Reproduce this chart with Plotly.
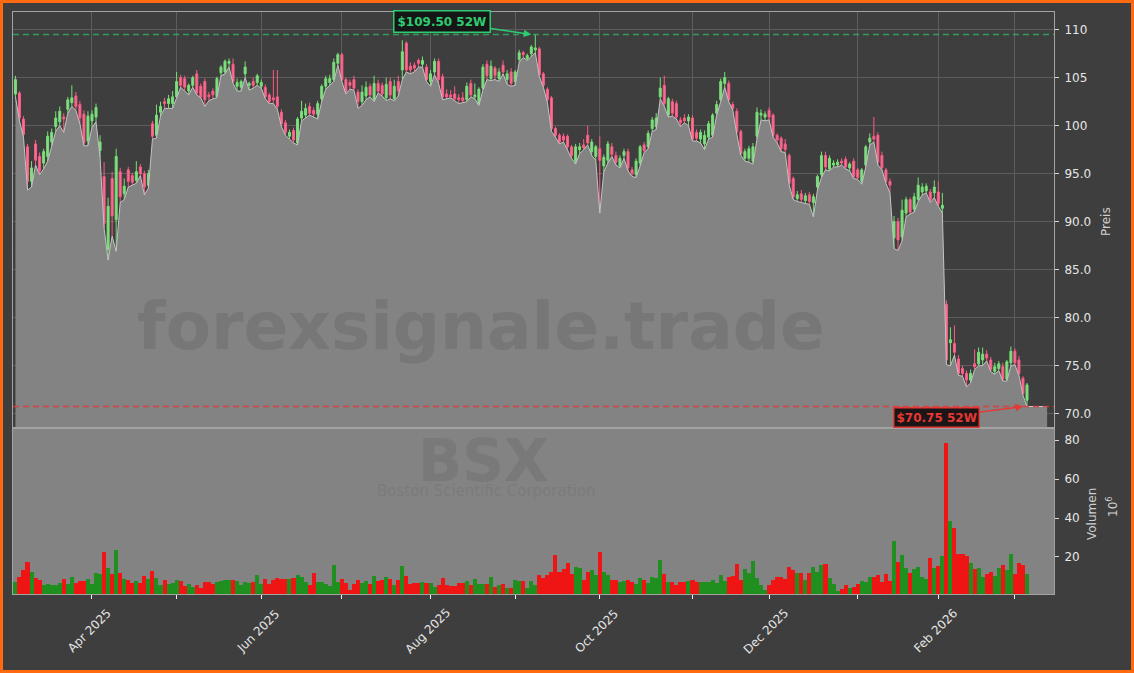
import numpy as np
import pandas as pd
import plotly.graph_objects as go

# ---------------- data ----------------
HOLIDAYS = ["2025-04-18", "2025-05-26", "2025-06-19", "2025-07-04", "2025-09-01",
            "2025-11-27", "2025-12-25", "2026-01-01", "2026-01-19", "2026-02-16"]
DATES = pd.bdate_range("2025-03-05", "2026-03-05", freq="C", holidays=HOLIDAYS)

OPEN = [
    103.3, 103.4, 100.7, 97.8, 94.2, 98.1, 96.8, 96.1, 96.8, 98.3,
    99.9, 100.4, 100.9, 101.7, 102.4, 103.1, 102.2, 101.2, 98.4, 100.5,
    100.9, 97.4, 94.7, 87.1, 94.5, 90.2, 95.2, 92.9, 95.4, 94.8,
    94.3, 95.7, 95.0, 93.8, 100.2, 99.0, 101.4, 102.5, 102.3, 102.3,
    103.0, 105.0, 104.9, 103.6, 104.2, 105.4, 104.1, 104.6, 103.2, 103.6,
    103.0, 105.5, 105.6, 106.5, 106.4, 104.1, 104.0, 105.4, 104.2, 104.6,
    104.5, 104.1, 104.0, 103.2, 102.9, 103.0, 101.4, 100.3, 98.9, 99.5,
    98.2, 100.8, 101.1, 102.0, 101.6, 101.2, 102.8, 104.1, 104.5, 104.8,
    106.5, 107.4, 104.8, 104.5, 104.8, 103.5, 102.5, 103.1, 104.1, 102.7,
    104.4, 104.2, 102.9, 104.6, 102.8, 104.6, 105.8, 108.6, 106.2, 106.3,
    106.8, 106.4, 106.1, 104.6, 105.6, 106.7, 105.1, 103.3, 103.2, 103.3,
    102.9, 102.9, 102.7, 104.4, 103.0, 102.3, 103.9, 106.4, 104.9, 106.0,
    104.9, 106.3, 104.8, 105.6, 104.6, 106.9, 107.6, 107.0, 107.5, 107.9,
    108.0, 105.4, 103.8, 102.9, 99.7, 99.0, 98.9, 98.9, 97.8, 96.3,
    97.5, 98.0, 99.0, 97.3, 96.8, 97.6, 95.8, 96.4, 97.8, 96.9,
    95.8, 96.9, 97.3, 95.4, 94.9, 96.1, 98.0, 97.8, 99.7, 99.9,
    103.0, 104.2, 101.1, 102.5, 102.3, 100.6, 100.8, 100.5, 100.8, 99.3,
    98.6, 98.1, 98.8, 99.0, 101.3, 102.7, 104.4, 104.4, 102.2, 101.5,
    99.4, 96.6, 96.6, 96.3, 98.9, 101.1, 100.9, 101.6, 101.1, 99.0,
    98.7, 98.1, 96.9, 94.5, 92.4, 92.9, 92.2, 92.8, 92.0, 93.6,
    94.9, 96.9, 95.5, 95.9, 95.9, 96.3, 96.5, 95.6, 96.3, 95.4,
    94.2, 95.9, 98.3, 98.9, 99.0, 96.9, 95.4, 94.2, 88.3, 90.0,
    88.4, 90.9, 92.3, 91.3, 92.3, 93.1, 93.2, 93.1, 93.0, 93.1,
    91.4, 81.4, 77.4, 77.3, 75.7, 74.7, 74.2, 73.5, 75.2, 75.2,
    75.6, 76.2, 75.6, 74.4, 74.7, 74.9, 73.6, 75.3, 76.5, 75.6,
    73.7, 71.4,
]
HIGH = [
    105.2, 103.6, 101.0, 98.1, 96.3, 98.5, 97.2, 97.6, 99.4, 99.7,
    101.5, 102.0, 101.3, 103.0, 104.2, 103.5, 102.6, 101.6, 101.5, 101.6,
    102.3, 99.0, 96.2, 92.5, 95.2, 97.6, 95.6, 94.5, 95.7, 95.1,
    96.3, 96.0, 95.3, 95.4, 100.5, 102.2, 102.5, 102.9, 103.2, 103.6,
    105.6, 105.3, 105.2, 104.4, 105.2, 105.8, 104.4, 104.9, 103.5, 103.9,
    105.1, 106.3, 106.9, 107.0, 107.0, 104.9, 104.8, 106.7, 104.6, 105.0,
    105.4, 104.8, 104.3, 103.4, 105.8, 105.8, 101.7, 100.6, 99.6, 99.8,
    100.9, 102.6, 102.3, 102.4, 101.9, 102.6, 104.3, 105.2, 105.3, 107.0,
    107.6, 107.6, 105.0, 104.8, 105.2, 103.8, 104.2, 104.6, 104.4, 105.2,
    104.8, 104.5, 105.0, 105.0, 104.8, 105.2, 108.9, 108.8, 106.6, 106.6,
    107.0, 107.2, 106.4, 105.8, 107.0, 107.0, 105.4, 103.8, 103.7, 104.1,
    103.3, 103.5, 104.5, 104.8, 104.4, 104.0, 106.4, 106.8, 106.8, 106.2,
    106.0, 106.8, 105.8, 106.0, 105.8, 107.9, 107.8, 107.5, 108.4, 109.5,
    108.2, 105.6, 104.0, 103.1, 99.9, 99.2, 99.2, 99.1, 98.0, 98.1,
    98.2, 98.6, 100.0, 98.6, 98.0, 98.9, 97.0, 98.4, 98.2, 97.3,
    96.9, 97.6, 97.6, 95.7, 96.6, 98.0, 98.3, 99.5, 100.9, 101.3,
    105.0, 105.2, 103.0, 102.8, 102.6, 100.9, 101.2, 101.2, 101.1, 99.6,
    99.6, 99.5, 100.5, 101.3, 102.6, 104.9, 105.6, 104.7, 102.5, 101.8,
    99.6, 97.6, 97.9, 98.2, 101.9, 101.7, 101.5, 101.9, 101.3, 99.2,
    98.9, 98.6, 97.1, 94.7, 93.2, 93.3, 93.0, 93.1, 92.9, 94.9,
    97.3, 97.3, 96.9, 96.4, 96.5, 96.6, 96.8, 96.2, 96.6, 95.6,
    95.6, 98.0, 99.2, 100.9, 99.3, 97.3, 95.6, 94.5, 90.6, 90.4,
    92.3, 92.6, 92.5, 93.0, 94.6, 94.0, 94.0, 93.4, 94.3, 94.2,
    93.0, 81.8, 79.0, 79.2, 76.1, 75.0, 74.5, 74.6, 76.7, 76.9,
    76.9, 76.6, 75.9, 75.3, 75.5, 75.3, 75.6, 77.0, 76.8, 76.0,
    73.9, 73.2,
]
LOW = [
    103.0, 100.5, 98.8, 93.3, 93.6, 95.9, 94.9, 95.5, 96.3, 97.9,
    99.4, 100.0, 99.3, 101.3, 102.0, 101.6, 100.2, 97.9, 97.9, 99.8,
    100.4, 96.7, 89.3, 86.0, 88.5, 86.9, 92.0, 92.3, 93.6, 93.8,
    94.0, 94.8, 92.8, 93.5, 98.6, 98.7, 101.0, 101.8, 101.8, 101.8,
    102.9, 104.0, 103.6, 103.2, 104.0, 103.2, 102.9, 102.0, 102.6, 102.8,
    102.9, 105.2, 105.4, 106.1, 104.4, 103.6, 103.6, 105.0, 103.7, 103.9,
    104.2, 103.9, 102.8, 102.3, 102.3, 101.7, 99.9, 99.0, 98.6, 98.2,
    98.0, 100.5, 100.8, 101.1, 100.9, 100.7, 102.5, 103.8, 104.2, 104.6,
    106.3, 104.6, 103.3, 103.8, 103.7, 101.8, 102.1, 102.7, 103.0, 102.5,
    103.4, 103.1, 102.6, 102.8, 102.6, 103.1, 104.8, 105.6, 105.4, 105.6,
    106.1, 106.1, 104.6, 104.1, 105.3, 104.4, 102.7, 102.8, 102.9, 102.6,
    102.3, 102.4, 102.5, 103.0, 102.8, 102.1, 103.7, 104.8, 104.7, 104.8,
    104.6, 105.4, 104.3, 104.1, 104.2, 106.6, 107.1, 106.8, 107.2, 107.6,
    105.1, 104.0, 102.4, 99.4, 98.8, 98.1, 98.3, 97.5, 96.6, 96.0,
    97.1, 97.5, 98.0, 96.9, 96.4, 90.9, 95.2, 96.1, 96.8, 95.9,
    95.6, 96.6, 95.3, 94.7, 94.6, 95.8, 97.2, 97.6, 99.4, 99.6,
    102.8, 102.0, 100.9, 101.0, 100.7, 99.9, 100.3, 100.0, 98.4, 98.4,
    98.2, 97.5, 98.6, 98.8, 101.1, 102.5, 104.0, 102.5, 101.6, 99.1,
    96.9, 96.3, 96.2, 96.0, 98.6, 100.6, 100.5, 100.6, 98.8, 98.2,
    97.3, 97.2, 93.8, 92.3, 92.1, 92.0, 91.9, 91.8, 90.5, 93.3,
    94.6, 95.4, 95.3, 95.7, 95.7, 95.9, 95.5, 95.3, 94.5, 94.4,
    93.9, 95.7, 98.0, 98.3, 95.9, 95.4, 94.0, 93.0, 87.2, 87.0,
    88.0, 90.5, 90.8, 91.0, 92.1, 92.8, 93.0, 92.0, 92.5, 91.6,
    90.9, 75.1, 75.0, 76.1, 74.0, 73.9, 72.8, 73.2, 74.6, 75.0,
    75.0, 75.5, 74.4, 74.1, 74.5, 73.4, 73.4, 75.0, 75.1, 74.0,
    71.9, 70.75,
]
CLOSE = [
    104.8, 100.8, 99.1, 94.2, 95.6, 96.4, 95.3, 97.3, 98.9, 99.3,
    100.8, 101.5, 100.7, 102.7, 102.9, 102.0, 100.8, 98.2, 101.0, 101.2,
    101.9, 98.3, 89.8, 91.6, 90.6, 96.8, 92.6, 93.7, 94.2, 94.1,
    95.2, 95.0, 93.6, 95.0, 98.9, 101.1, 102.0, 102.3, 102.8, 103.0,
    104.6, 104.2, 104.0, 104.2, 105.0, 103.4, 103.0, 102.7, 103.0, 103.2,
    104.9, 106.1, 106.7, 106.7, 104.6, 104.5, 104.6, 106.1, 104.4, 104.2,
    105.2, 104.5, 103.0, 102.5, 102.7, 102.0, 100.2, 99.3, 99.3, 98.5,
    100.7, 101.5, 101.8, 101.3, 101.2, 102.3, 104.1, 104.9, 104.9, 106.6,
    107.4, 104.8, 103.5, 104.2, 103.9, 102.5, 103.5, 104.0, 103.2, 104.4,
    103.6, 103.3, 104.3, 103.2, 104.1, 103.6, 107.7, 105.8, 105.8, 106.0,
    106.5, 106.8, 104.8, 105.4, 106.7, 104.8, 103.0, 103.0, 103.0, 102.8,
    102.7, 102.6, 104.1, 103.2, 103.2, 103.8, 106.1, 105.2, 106.2, 105.2,
    105.6, 105.6, 105.4, 104.4, 105.6, 107.6, 107.4, 107.3, 108.2, 108.1,
    105.3, 104.2, 102.7, 99.7, 99.0, 98.3, 98.5, 97.8, 96.9, 97.8,
    97.8, 97.7, 98.2, 98.3, 97.8, 96.4, 96.7, 98.1, 97.0, 96.2,
    96.6, 97.3, 95.6, 95.0, 96.3, 97.8, 97.4, 99.2, 100.6, 100.8,
    103.9, 102.3, 102.8, 101.3, 100.9, 100.3, 100.5, 100.9, 98.6, 98.7,
    99.3, 99.0, 100.2, 101.1, 102.2, 104.6, 105.0, 102.7, 101.8, 99.4,
    97.1, 97.3, 97.6, 97.8, 101.4, 101.3, 101.2, 100.9, 99.0, 98.5,
    97.6, 97.5, 94.0, 92.6, 92.8, 92.3, 92.7, 92.1, 92.6, 94.7,
    96.9, 95.7, 96.6, 96.1, 96.2, 96.1, 95.7, 96.0, 94.7, 94.6,
    95.4, 97.8, 98.7, 98.6, 96.2, 95.6, 94.2, 93.8, 90.0, 88.1,
    91.2, 92.3, 91.0, 92.6, 93.8, 93.6, 93.7, 92.3, 93.6, 91.9,
    91.7, 75.6, 77.7, 76.4, 74.2, 74.2, 73.5, 74.2, 74.9, 76.4,
    76.2, 75.8, 74.6, 74.9, 75.2, 73.6, 75.4, 76.5, 75.3, 74.2,
    72.1, 73.0,
]
VOLUME_M = [
    7.0, 9.9, 13.3, 17.3, 12.1, 9.1, 8.2, 5.6, 6.2, 5.6,
    5.6, 6.5, 8.7, 6.2, 9.6, 6.5, 7.7, 7.7, 8.5, 6.2,
    11.6, 11.3, 22.4, 14.1, 11.3, 23.6, 11.6, 8.5, 8.2, 6.5,
    7.9, 6.5, 10.3, 8.5, 12.8, 9.1, 5.6, 8.2, 6.2, 6.8,
    8.2, 7.7, 5.1, 6.2, 4.8, 5.6, 3.9, 7.0, 7.0, 6.2,
    7.0, 7.7, 8.2, 8.2, 8.2, 7.7, 5.6, 7.0, 6.8, 7.0,
    10.8, 6.2, 8.7, 6.2, 8.2, 9.1, 8.7, 8.7, 8.7, 9.1,
    10.8, 9.9, 7.0, 5.6, 11.6, 7.0, 7.0, 6.2, 5.3, 15.9,
    7.0, 8.7, 6.8, 3.1, 6.2, 8.2, 6.5, 7.7, 6.2, 10.3,
    7.7, 8.2, 9.9, 8.7, 5.6, 8.2, 15.4, 10.3, 6.2, 6.8,
    6.8, 7.0, 6.8, 6.5, 4.4, 5.6, 9.1, 5.6, 5.3, 5.3,
    6.5, 6.5, 7.7, 5.6, 8.7, 6.0, 6.2, 6.2, 9.6, 4.8,
    5.6, 6.2, 3.9, 3.9, 8.2, 7.9, 7.7, 3.9, 7.7, 5.6,
    10.8, 9.1, 10.8, 12.5, 21.0, 12.5, 13.8, 16.7, 11.3, 15.1,
    14.5, 8.2, 12.1, 13.3, 11.0, 22.4, 12.1, 10.8, 8.2, 8.2,
    7.4, 7.7, 8.2, 7.0, 6.2, 9.1, 8.2, 6.5, 9.6, 9.4,
    18.2, 11.3, 7.0, 7.0, 5.6, 7.0, 7.0, 7.7, 8.2, 7.4,
    7.0, 7.0, 7.0, 8.2, 6.5, 10.8, 7.7, 9.9, 10.3, 16.4,
    8.2, 13.6, 12.0, 17.9, 9.1, 5.6, 3.1, 5.6, 8.2, 9.9,
    9.6, 8.5, 15.1, 13.1, 11.6, 11.6, 8.2, 11.6, 15.1, 12.5,
    15.9, 16.4, 9.1, 6.2, 2.3, 3.6, 5.6, 3.9, 4.8, 6.2,
    7.7, 7.0, 9.6, 9.9, 10.5, 7.4, 11.3, 7.7, 28.2, 17.3,
    21.0, 14.5, 11.9, 13.8, 15.1, 9.9, 8.5, 19.3, 14.1, 15.5,
    20.5, 78.3, 38.5, 35.0, 21.5, 21.5, 20.5, 16.8, 13.6, 14.1,
    9.9, 11.3, 12.5, 10.3, 14.5, 15.9, 13.3, 21.5, 11.3, 16.8,
    15.9, 11.3,
]
PRICE_TICKS = [70, 75, 80, 85, 90, 95, 100, 105, 110]
PRICE_TICKTEXT = ["70.0", "75.0", "80.0", "85.0", "90.0", "95.0", "100", "105", "110"]
VOL_TICKS = [20, 40, 60, 80]
TICKER = "BSX"
COMPANY = "Boston Scientific Corporation"
WATERMARK = "forexsignale.trade"

n = len(CLOSE)
assert len(DATES) == n == len(OPEN) == len(HIGH) == len(LOW) == len(VOLUME_M)
x = np.arange(n)

month_idx = [i for i in range(1, n) if DATES[i].month != DATES[i - 1].month]
label_idx = [i for i in month_idx if DATES[i].month % 2 == 0]

hi52 = max(HIGH)
lo52 = min(LOW)
hi_i = int(np.argmax(HIGH))
lo_i = int(np.argmin(LOW))

# ---------------- style ----------------
W, H = 1134, 673
ML, MR, MT, MB = 13, 80, 12, 79
PW, PH = W - ML - MR, H - MT - MB
SPLIT = 0.2852
FONT = "DejaVu Sans"
BG = "#3e3e3e"
PANEL_GRAY = "#838383"
GRID = "#5d5d5d"
SPINE = "#a3a3a3"
TXT = "#e6e6e6"
UP_VOL, DN_VOL = "#1f8f1f", "#f01515"
X_PAD_AREA = 5


def px_x(p):
    return (p - ML) / PW


def px_y(p):
    return (H - MB - p) / PH


vol_colors = [UP_VOL if c >= o else DN_VOL for o, c in zip(OPEN, CLOSE)]

fig = go.Figure()

area_x = list(x) + [n - 1 + X_PAD_AREA]
area_y = list(LOW) + [LOW[-1]]
fig.add_trace(go.Scatter(
    x=area_x, y=area_y, mode="lines", fill="tozeroy",
    fillcolor=PANEL_GRAY, line=dict(color="#c4c4c4", width=1),
    hoverinfo="skip", showlegend=False, xaxis="x", yaxis="y"))

fig.add_trace(go.Candlestick(
    x=x, open=OPEN, high=HIGH, low=LOW, close=CLOSE,
    increasing=dict(line=dict(color="#74e274", width=1), fillcolor="#8fd68f"),
    decreasing=dict(line=dict(color="#ff5a86", width=1), fillcolor="#ee7896"),
    whiskerwidth=0, showlegend=False, xaxis="x", yaxis="y"))

fig.add_trace(go.Bar(
    x=x, y=VOLUME_M, marker=dict(color=vol_colors, line=dict(width=0)),
    width=1.0, showlegend=False, xaxis="x2", yaxis="y2"))

shapes = [
    dict(type="rect", xref="x2 domain", yref="y2 domain", x0=0, x1=1, y0=0, y1=1,
         fillcolor=PANEL_GRAY, line=dict(width=0), layer="below"),
    dict(type="line", xref="x domain", yref="y", x0=0, x1=1, y0=hi52, y1=hi52,
         line=dict(color="rgba(46,190,100,0.75)", width=1.5, dash="6px,4px")),
    dict(type="line", xref="x domain", yref="y", x0=0, x1=1, y0=lo52, y1=lo52,
         line=dict(color="rgba(230,55,55,0.85)", width=1.5, dash="6px,4px")),
    dict(type="rect", xref="paper", yref="paper",
         x0=px_x(1.5), x1=px_x(W - 1.5), y0=px_y(H - 1.5), y1=px_y(1.5),
         line=dict(color="#ff6a10", width=3), fillcolor="rgba(0,0,0,0)", layer="above"),
]


def paper_text(text, px, py, size, color, angle=0, bold=False):
    return dict(text=("<b>%s</b>" % text) if bold else text, xref="paper", yref="paper",
                x=px_x(px), y=px_y(py), xanchor="center", yanchor="middle",
                textangle=angle, showarrow=False,
                font=dict(family=FONT, size=size, color=color))


annotations = [
    paper_text(WATERMARK, 481, 326, 66, "#777777", bold=True),
    paper_text(TICKER, 483, 461, 58, "#797979", bold=True),
    paper_text(COMPANY, 486, 491, 15, "#7b7b7b"),
    paper_text("Preis", 1106, 222, 12, "#cfcfcf", angle=-90),
    paper_text("Volumen", 1092, 514, 12, "#cfcfcf", angle=-90),
    paper_text("10<sup>6</sup>", 1112, 507, 12, "#cfcfcf", angle=-90),
]
annotations.append(dict(text="<b>$%.2f 52W</b>" % hi52, x=hi_i - 1, y=hi52, xref="x", yref="y",
                        ax=-89, ay=-13, showarrow=True, arrowhead=2, arrowsize=1,
                        arrowwidth=1.5, arrowcolor="#2ecc71",
                        bgcolor="#161616", bordercolor="#2ecc71", borderwidth=1.5, borderpad=3,
                        font=dict(family=FONT, size=12, color="#2ecc71")))
annotations.append(dict(text="<b>$%.2f 52W</b>" % lo52, x=lo_i - 1, y=lo52, xref="x", yref="y",
                        ax=-86, ay=11, showarrow=True, arrowhead=2, arrowsize=1,
                        arrowwidth=1.5, arrowcolor="#e53935",
                        bgcolor="#1c1515", bordercolor="#e53935", borderwidth=1.5, borderpad=2,
                        font=dict(family=FONT, size=12, color="#e53935")))
for i in label_idx:
    annotations.append(dict(text=DATES[i].strftime("%b %Y"), x=i - 0.7, xref="x2",
                            y=px_y(631), yref="paper", textangle=-45, showarrow=False,
                            xanchor="center", yanchor="middle",
                            font=dict(family=FONT, size=12, color=TXT)))

xr = [-0.6, 257.7]
fig.update_layout(
    width=W, height=H, margin=dict(l=ML, r=MR, t=MT, b=MB),
    paper_bgcolor=BG, plot_bgcolor=BG, font=dict(family=FONT, size=12, color=TXT),
    showlegend=False, bargap=0, shapes=shapes, annotations=annotations,
    xaxis=dict(domain=[0, 1], anchor="y", range=xr, tickvals=month_idx, showticklabels=False,
               ticks="", showgrid=True, gridcolor=GRID, gridwidth=1, zeroline=False,
               showline=True, mirror=True, linecolor=SPINE, linewidth=1,
               rangeslider=dict(visible=False)),
    yaxis=dict(domain=[SPLIT, 1], anchor="x", side="right", range=[68.51, 111.84],
               tickvals=PRICE_TICKS, ticktext=PRICE_TICKTEXT, ticks="outside", ticklen=4,
               tickcolor="#d8d8d8", showgrid=True, gridcolor=GRID, zeroline=False,
               showline=True, mirror=True, linecolor=SPINE, ticklabelstandoff=3,
               tickfont=dict(family=FONT, size=12, color=TXT)),
    xaxis2=dict(domain=[0, 1], anchor="y2", matches="x", range=xr, tickvals=month_idx,
                showticklabels=False, ticks="outside", ticklen=4, tickcolor="#f0f0f0",
                showgrid=False, zeroline=False, showline=True, mirror=True, linecolor=SPINE),
    yaxis2=dict(domain=[0, SPLIT], anchor="x2", side="right", range=[1.0, 86.2],
                tickvals=VOL_TICKS, ticks="outside", ticklen=4, tickcolor="#d8d8d8",
                showgrid=False, zeroline=False, showline=True, mirror=True, linecolor=SPINE,
                ticklabelstandoff=3, tickfont=dict(family=FONT, size=12, color=TXT)),
)

fig.write_html("out.html", config={"displayModeBar": False},
               post_script="document.body.style.margin='0px';")
